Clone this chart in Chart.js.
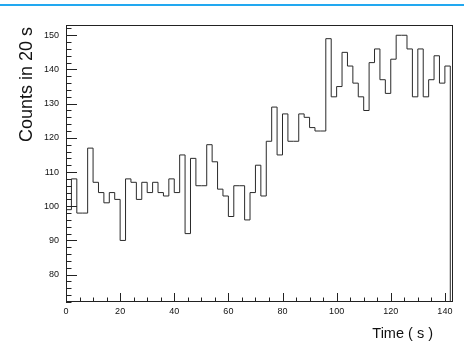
<!DOCTYPE html>
<html><head><meta charset="utf-8">
<script src="https://cdn.jsdelivr.net/npm/chart.js@4/dist/chart.umd.min.js"></script>
<style>html,body{margin:0;padding:0;background:#fff;}canvas{display:block}</style>
</head><body>
<canvas id="c" width="464" height="344"></canvas>
<script>
// ---- data ----
const binStart = [0,2,4,6,8,10,12,14,16,18,20,22,24,26,28,30,32,34,36,38,40,42,44,46,48,50,52,54,56,58,60,62,64,66,68,70,72,74,76,78,80,82,84,86,88,90,92,94,96,98,100,102,104,106,108,110,112,114,116,118,120,122,124,126,128,130,132,134,136,138,140];
const binEnd = 142;
const counts = [99,108,98,98,117,107,104,101,104,102,90,108,107,102,107,104,107,104,103,108,104,115,92,114,106,106,118,113,105,103,97,106,106,96,104,112,103,119,129,115,127,119,119,127,126,123,122,122,149,132,135,145,141,136,132,128,142,146,137,133,143,150,150,146,132,146,132,137,144,136,141];
const xTicks = [0,20,40,60,80,100,120,140];
const yTicks = [80,90,100,110,120,130,140,150];
const xRange = [0,143];
const yRange = [72,153];
const xTitle = 'Time ( s )';
const yTitle = 'Counts in 20 s';

// histogram outline (ROOT style: starts and ends on the frame bottom)
const pts = [{x: binStart[0], y: yRange[0]}];
binStart.forEach((t, i) => pts.push({x: t, y: counts[i]}));
pts.push({x: binEnd, y: counts[counts.length - 1]});
pts.push({x: binEnd, y: yRange[0]});

const deco = {
  id: 'deco',
  afterDraw(chart) {
    const ctx = chart.ctx, a = chart.chartArea;
    const xs = chart.scales.x, ys = chart.scales.y;
    ctx.save();
    // top blue line
    ctx.fillStyle = '#22a8f0';
    ctx.fillRect(0, 4, 464, 2);
    // frame
    ctx.strokeStyle = '#222';
    ctx.lineWidth = 1;
    ctx.strokeRect(a.left + 0.5, a.top + 0.5, a.right - a.left - 1, a.bottom - a.top - 1);
    // y ticks (inside)
    ctx.beginPath();
    for (let v = 72; v <= yRange[1]; v += 2) {
      const y = Math.round(ys.getPixelForValue(v)) + 0.5;
      const len = (v % 10 === 0) ? 11 : 5.5;
      ctx.moveTo(a.left, y); ctx.lineTo(a.left + len, y);
    }
    // x ticks (inside)
    for (let t = 0; t <= xRange[1]; t += 5) {
      const x = Math.round(xs.getPixelForValue(t)) + 0.5;
      const len = (t % 20 === 0) ? 9 : 4.5;
      ctx.moveTo(x, a.bottom); ctx.lineTo(x, a.bottom - len);
    }
    ctx.stroke();
    // titles
    ctx.fillStyle = '#111';
    ctx.font = '14.5px "Liberation Sans", Arial, sans-serif';
    ctx.textAlign = 'right';
    ctx.textBaseline = 'middle';
    ctx.fillText(xTitle, 433, 334);
    ctx.translate(27, 27);
    ctx.rotate(-Math.PI / 2);
    ctx.font = '18px "Liberation Sans", Arial, sans-serif';
    ctx.textAlign = 'right';
    ctx.textBaseline = 'middle';
    ctx.fillText(yTitle, 0, 0);
    ctx.restore();
  }
};

new Chart(document.getElementById('c'), {
  type: 'line',
  data: {
    datasets: [{
      data: pts,
      stepped: true,
      borderColor: '#2a2a2a',
      borderWidth: 1,
      pointRadius: 0,
      fill: false,
      tension: 0
    }]
  },
  options: {
    responsive: false,
    animation: false,
    devicePixelRatio: 1,
    layout: {padding: {left: 0, top: 25, right: 11, bottom: 0}},
    plugins: {legend: {display: false}, tooltip: {enabled: false}},
    scales: {
      x: {
        type: 'linear', min: xRange[0], max: xRange[1],
        afterBuildTicks: s => { s.ticks = xTicks.map(v => ({value: v})); },
        afterFit: s => { s.height = 42; },
        grid: {display: false, drawTicks: false},
        border: {display: false},
        ticks: {font: {size: 9, family: '"Liberation Sans", Arial, sans-serif'}, color: '#111', padding: 4, maxRotation: 0, autoSkip: false}
      },
      y: {
        type: 'linear', min: yRange[0], max: yRange[1],
        afterBuildTicks: s => { s.ticks = yTicks.map(v => ({value: v})); },
        afterFit: s => { s.width = 66; },
        grid: {display: false, drawTicks: false},
        border: {display: false},
        ticks: {font: {size: 9, family: '"Liberation Sans", Arial, sans-serif'}, color: '#111', padding: 7}
      }
    }
  },
  plugins: [deco]
});
</script>
</body></html>
